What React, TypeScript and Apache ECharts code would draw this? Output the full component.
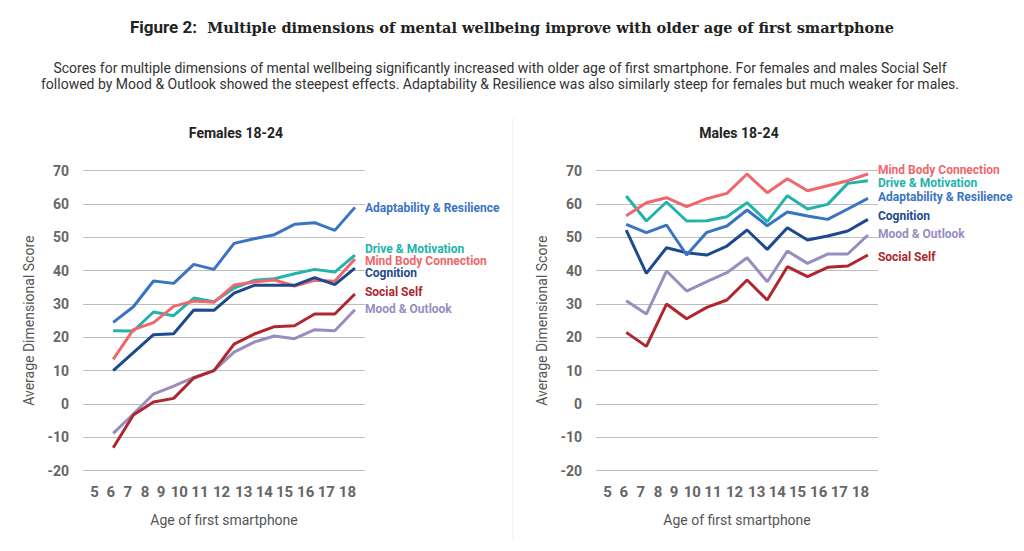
import React, { useEffect, useRef } from "react";
import * as echarts from "echarts";

// ---- data ----
const AGES = ["5", "6", "7", "8", "9", "10", "11", "12", "13", "14", "15", "16", "17", "18"];
const Y_TICKS = [-20, -10, 0, 10, 20, 30, 40, 50, 60, 70];

// Females 18-24 (ages 6..18; age 5 has no value)
const F_ADAPT = [null, 24.5, 29.2, 36.9, 36.2, 41.9, 40.4, 48.2, 49.6, 50.8, 53.9, 54.4, 52.1, 59];
const F_DRIVE = [null, 22, 21.9, 27.6, 26.5, 31.8, 30.7, 34.8, 37.1, 37.6, 39.1, 40.4, 39.6, 44.7];
const F_MIND = [null, 13.4, 22.3, 24.4, 29.3, 30.9, 30.5, 35.7, 36.6, 37.2, 35.4, 37.1, 36.8, 43.5];
const F_COG = [null, 10, 15.4, 20.8, 21.1, 28.2, 28.1, 33.3, 35.6, 35.6, 35.6, 37.9, 35.8, 40.8];
const F_SOCIAL = [null, -13.1, -3.3, 0.6, 1.7, 7.8, 10, 18, 21, 23.2, 23.5, 27, 27, 33];
const F_MOOD = [null, -8.8, -3, 3, 5.4, 8, 10, 15.6, 18.6, 20.4, 19.6, 22.3, 22, 28.3];

// Males 18-24
const M_MIND = [null, 56.5, 60.4, 61.9, 59.2, 61.6, 63.2, 69, 63.4, 67.6, 64, 65.5, 67, 69];
const M_DRIVE = [null, 62.4, 54.9, 60.6, 54.9, 55, 56.2, 60.4, 54.7, 62.5, 58.5, 59.9, 66.2, 67];
const M_ADAPT = [null, 53.9, 51.4, 53.7, 44.7, 51.5, 53.4, 58.2, 53.5, 57.6, 56.4, 55.4, 58.5, 61.7];
const M_COG = [null, 52.2, 39.2, 46.9, 45.4, 44.7, 47.4, 52.2, 46.4, 52.9, 49.2, 50.4, 51.9, 55.4];
const M_MOOD = [null, 31, 27, 39.9, 33.9, 36.7, 39.4, 43.9, 36.7, 45.9, 42.2, 45, 45, 50.7];
const M_SOCIAL = [null, 21.5, 17.3, 30, 25.6, 29, 31.2, 37.2, 31.2, 41.2, 38.2, 41, 41.4, 44.7];

const NAMES = {
  adapt: "Adaptability & Resilience",
  drive: "Drive & Motivation",
  mind: "Mind Body Connection",
  cog: "Cognition",
  social: "Social Self",
  mood: "Mood & Outlook",
};

const COLORS = {
  adapt: "#3b73c4",
  drive: "#22b3ac",
  mind: "#f0676b",
  cog: "#1d4a8f",
  social: "#b0262f",
  mood: "#988dbf",
};

const TITLE_LEAD = "Figure 2:";
const TITLE_MAIN = "Multiple dimensions of mental wellbeing improve with older age of first smartphone";
const SUBTITLE =
  "Scores for multiple dimensions of mental wellbeing significantly increased with older age of first smartphone. For females and males Social Self\nfollowed by Mood & Outlook showed the steepest effects. Adaptability & Resilience was also similarly steep for females but much weaker for males.";
const PANEL_TITLES = ["Females 18-24", "Males 18-24"];
const X_NAME = "Age of first smartphone";
const Y_NAME = "Average Dimensional Score";

// label layout tweaks (pixels) – style only
const LABEL_SHIFT = [1.5, -2.5, -5.5, -8.5, -12.5, -14.5, -14, -12.5, -10.5, -10, -10, -9, -8.5, -7.5];

const FONT = "Roboto, 'Noto Sans', sans-serif";

function xLabelRich() {
  const rich: Record<string, any> = {};
  LABEL_SHIFT.forEach((d, i) => {
    rich["t" + i] = {
      padding: d >= 0 ? [0, 0, 0, 2 * d] : [0, -2 * d, 0, 0],
      color: "#666",
      fontSize: 15,
      fontWeight: "bold",
      fontFamily: FONT,
    };
  });
  return rich;
}

function makeSeries(
  key: keyof typeof NAMES,
  data: (number | null)[],
  idx: number,
  dy: number
) {
  return {
    type: "line",
    name: NAMES[key],
    xAxisIndex: idx,
    yAxisIndex: idx,
    data,
    symbol: "none",
    connectNulls: false,
    lineStyle: { color: COLORS[key], width: 3 },
    itemStyle: { color: COLORS[key] },
    endLabel: {
      show: true,
      formatter: NAMES[key],
      distance: 10,
      offset: [0, dy],
      color: COLORS[key],
      fontSize: 12,
      fontWeight: "bold",
      fontFamily: FONT,
    },
  };
}

export default function App() {
  const ref = useRef<HTMLDivElement>(null);
  useEffect(() => {
    if (!ref.current) return;
    const chart = echarts.init(ref.current, null, { renderer: "svg" });
    const grids = [
      { left: 83, top: 170.7, width: 282, height: 300 },
      { left: 596, top: 170.7, width: 282, height: 300 },
    ];
    const xAxes = grids.map((_, i) => ({
      type: "category",
      gridIndex: i,
      data: AGES,
      boundaryGap: true,
      axisLine: { show: false },
      axisTick: { show: false },
      axisLabel: {
        interval: 0,
        margin: 14,
        formatter: (v: string, j: number) => `{t${j}|${v}}`,
        rich: xLabelRich(),
      },
      name: X_NAME,
      nameLocation: "middle",
      nameGap: 42,
      nameTextStyle: { color: "#555", fontSize: 14, fontFamily: FONT },
    }));
    const yAxes = grids.map((_, i) => ({
      type: "value",
      gridIndex: i,
      min: Y_TICKS[0],
      max: Y_TICKS[Y_TICKS.length - 1],
      interval: 10,
      axisLine: { show: false },
      axisTick: { show: false },
      axisLabel: {
        margin: 14,
        color: "#666",
        fontSize: 14,
        fontWeight: "bold",
        fontFamily: FONT,
      },
      splitLine: { lineStyle: { color: "#bdbdbd", width: 1.2 } },
      name: Y_NAME,
      nameLocation: "middle",
      nameGap: 47,
      nameTextStyle: { color: "#555", fontSize: 14, fontFamily: FONT },
    }));

    const option = {
      animation: false,
      backgroundColor: "#ffffff",
      grid: grids,
      xAxis: xAxes,
      yAxis: yAxes,
      series: [
        makeSeries("mood", F_MOOD, 0, -1.2),
        makeSeries("social", F_SOCIAL, 0, -2.5),
        makeSeries("drive", F_DRIVE, 0, -6.5),
        makeSeries("mind", F_MIND, 0, 2),
        makeSeries("cog", F_COG, 0, 5.2),
        makeSeries("adapt", F_ADAPT, 0, 0.5),
        makeSeries("mood", M_MOOD, 1, -1),
        makeSeries("social", M_SOCIAL, 1, 2.3),
        makeSeries("cog", M_COG, 1, -3.4),
        makeSeries("adapt", M_ADAPT, 1, -1.5),
        makeSeries("drive", M_DRIVE, 1, 2.2),
        makeSeries("mind", M_MIND, 1, -3.8),
      ],
      graphic: [
        {
          type: "text",
          x: 512,
          y: 27,
          style: {
            text: `{a|${TITLE_LEAD}}{b|  ${TITLE_MAIN}}`,
            align: "center",
            verticalAlign: "middle",
            rich: {
              a: { fontFamily: FONT, fontWeight: "bold", fontSize: 17, fill: "#222" },
              b: { fontFamily: "'DejaVu Serif', serif", fontWeight: "bold", fontSize: 14.5, fill: "#222" },
            },
          },
        },
        {
          type: "text",
          x: 500,
          y: 75.5,
          style: {
            text: SUBTITLE,
            align: "center",
            verticalAlign: "middle",
            fontFamily: FONT,
            fontSize: 14,
            lineHeight: 16,
            fill: "#333",
          },
        },
        {
          type: "text",
          x: 236,
          y: 133,
          style: {
            text: PANEL_TITLES[0],
            align: "center",
            verticalAlign: "middle",
            fontFamily: FONT,
            fontWeight: "bold",
            fontSize: 14,
            fill: "#222",
          },
        },
        {
          type: "text",
          x: 739,
          y: 133,
          style: {
            text: PANEL_TITLES[1],
            align: "center",
            verticalAlign: "middle",
            fontFamily: FONT,
            fontWeight: "bold",
            fontSize: 14,
            fill: "#222",
          },
        },
        {
          type: "line",
          shape: { x1: 513, y1: 118, x2: 513, y2: 540 },
          style: { stroke: "#eeeeee", lineWidth: 1 },
        },
      ],
    };
    chart.setOption(option as any);
    return () => chart.dispose();
  }, []);
  return (
    <div
      ref={ref}
      style={{ position: "absolute", left: 0, top: 0, width: 1024, height: 551, background: "#fff" }}
    />
  );
}
